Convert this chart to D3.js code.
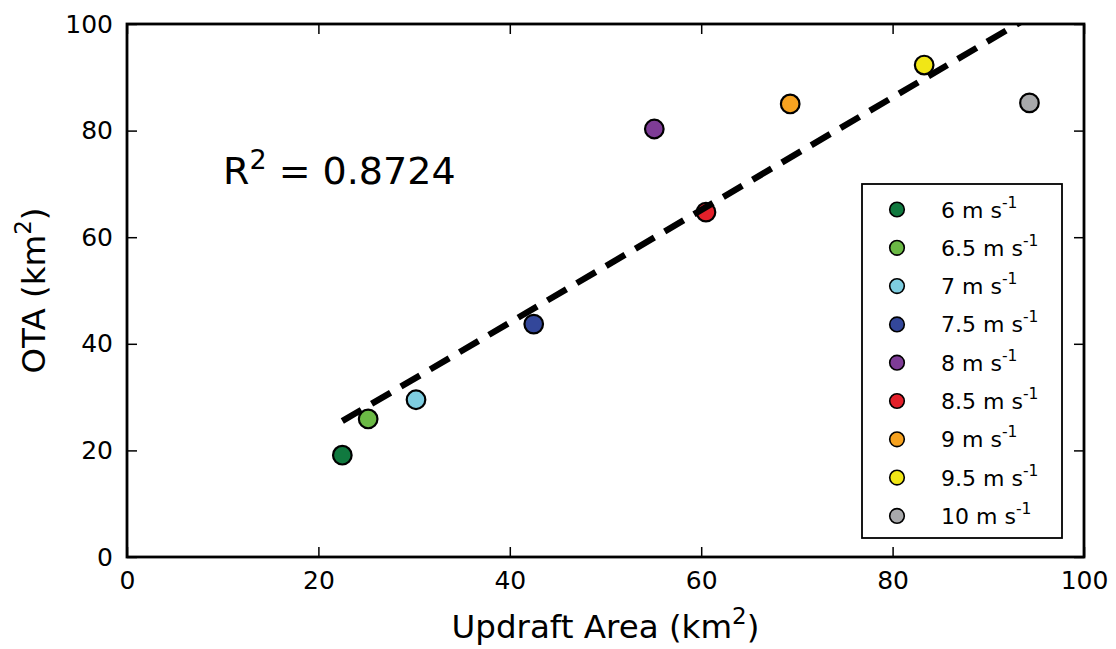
<!DOCTYPE html>
<html>
<head>
<meta charset="utf-8">
<script src="https://cdn.jsdelivr.net/npm/d3@7"></script>
<style>
  html, body { margin: 0; padding: 0; background: #fff; }
  svg { display: block; font-family: "DejaVu Sans", sans-serif; }
</style>
</head>
<body>
<svg id="chart" width="1116" height="649"></svg>
<script>
// Updraft speed thresholds (legend labels, m s^-1)
const speeds = ["6", "6.5", "7", "7.5", "8", "8.5", "9", "9.5", "10"];
// Updraft area (km^2) for each threshold
const updraftArea = [22.5, 25.2, 30.2, 42.5, 55.1, 60.5, 69.3, 83.3, 94.3];
// Overshooting top area (km^2) for each threshold
const otaValues = [19.1, 25.9, 29.5, 43.7, 80.3, 64.7, 85.0, 92.3, 85.2];
const pointColors = ["#10793f", "#6bb945", "#7ecde0", "#33479a", "#7e3c96",
                     "#e3202a", "#f6a220", "#f1e616", "#a8a9ab"];
const xTicks = [0, 20, 40, 60, 80, 100];
const yTicks = [0, 20, 40, 60, 80, 100];
const r2Label = "0.8724";

const svg = d3.select("#chart");
const plot = { left: 127, top: 24, right: 1084, bottom: 557 };

const x = d3.scaleLinear().domain([0, 100]).range([plot.left, plot.right]);
const y = d3.scaleLinear().domain([0, 100]).range([plot.bottom, plot.top]);

svg.append("defs").append("clipPath").attr("id", "plotClip")
  .append("rect")
  .attr("x", plot.left).attr("y", plot.top)
  .attr("width", plot.right - plot.left).attr("height", plot.bottom - plot.top);

// Inward ticks on all four sides
const tickLen = 10;
const axisGroups = [
  { axis: d3.axisBottom(x).tickValues(xTicks).tickSize(-tickLen).tickPadding(14).tickFormat(d3.format("d")), t: `translate(0,${plot.bottom})` },
  { axis: d3.axisTop(x).tickValues(xTicks).tickSize(-tickLen).tickFormat(""), t: `translate(0,${plot.top})` },
  { axis: d3.axisLeft(y).tickValues(yTicks).tickSize(-tickLen).tickPadding(14).tickFormat(d3.format("d")), t: `translate(${plot.left},0)` },
  { axis: d3.axisRight(y).tickValues(yTicks).tickSize(-tickLen).tickFormat(""), t: `translate(${plot.right},0)` }
];
axisGroups.forEach(a => {
  const g = svg.append("g").attr("transform", a.t).call(a.axis);
  g.select(".domain").remove();
  g.selectAll(".tick line").attr("stroke", "#000").attr("stroke-width", 1.5);
  g.selectAll(".tick text").attr("fill", "#000").attr("font-size", 25)
    .attr("font-family", "DejaVu Sans, sans-serif");
});

// Frame
svg.append("rect")
  .attr("x", plot.left).attr("y", plot.top)
  .attr("width", plot.right - plot.left).attr("height", plot.bottom - plot.top)
  .attr("fill", "none").attr("stroke", "#000").attr("stroke-width", 2.8);

// Scatter points
const pts = updraftArea.map((v, i) => ({ x: v, y: otaValues[i], c: pointColors[i] }));
svg.append("g").selectAll("circle").data(pts).join("circle")
  .attr("cx", d => x(d.x)).attr("cy", d => y(d.y)).attr("r", 9.3)
  .attr("fill", d => d.c).attr("stroke", "#000").attr("stroke-width", 2.2);

// Least-squares fit drawn over the data range
const mx = d3.mean(updraftArea), my = d3.mean(otaValues);
const sxy = d3.sum(updraftArea, (v, i) => (v - mx) * (otaValues[i] - my));
const sxx = d3.sum(updraftArea, v => (v - mx) * (v - mx));
const slope = sxy / sxx, intercept = my - slope * mx;
const fitX = d3.extent(updraftArea);
svg.append("path")
  .attr("clip-path", "url(#plotClip)")
  .attr("d", d3.line().x(d => x(d)).y(d => y(slope * d + intercept))(fitX))
  .attr("fill", "none").attr("stroke", "#000").attr("stroke-width", 6.3)
  .attr("stroke-dasharray", "22,12");

// R^2 annotation
const r2 = svg.append("text").attr("x", 223).attr("y", 184)
  .attr("font-size", 38).attr("fill", "#000");
r2.append("tspan").text("R");
r2.append("tspan").attr("font-size", 27).attr("dy", -15).text("2");
r2.append("tspan").attr("dy", 15).text(" = " + r2Label);

// Axis labels
const xl = svg.append("text").attr("x", (plot.left + plot.right) / 2).attr("y", 638)
  .attr("text-anchor", "middle").attr("font-size", 32.5).attr("fill", "#000");
xl.append("tspan").text("Updraft Area (km");
xl.append("tspan").attr("font-size", 23).attr("dy", -14).text("2");
xl.append("tspan").attr("dy", 14).text(")");

const yl = svg.append("text")
  .attr("transform", `translate(45,${(plot.top + plot.bottom) / 2}) rotate(-90)`)
  .attr("text-anchor", "middle").attr("font-size", 32.5).attr("fill", "#000");
yl.append("tspan").text("OTA (km");
yl.append("tspan").attr("font-size", 23).attr("dy", -14).text("2");
yl.append("tspan").attr("dy", 14).text(")");

// Legend
const legend = svg.append("g");
legend.append("rect")
  .attr("x", 862).attr("y", 184).attr("width", 200).attr("height", 354)
  .attr("fill", "#fff").attr("stroke", "#000").attr("stroke-width", 1.8);
const rowY = i => 209.5 + i * 38.3;
const rows = legend.selectAll("g.row").data(speeds).join("g").attr("class", "row");
rows.append("circle")
  .attr("cx", 897).attr("cy", (d, i) => rowY(i)).attr("r", 7.3)
  .attr("fill", (d, i) => pointColors[i]).attr("stroke", "#000").attr("stroke-width", 1.6);
const lt = rows.append("text")
  .attr("x", 941).attr("y", (d, i) => rowY(i) + 8)
  .attr("font-size", 22).attr("fill", "#000");
lt.append("tspan").text(d => d + " m s");
lt.append("tspan").attr("font-size", 15.5).attr("dy", -10).text("-1");
</script>
</body>
</html>
